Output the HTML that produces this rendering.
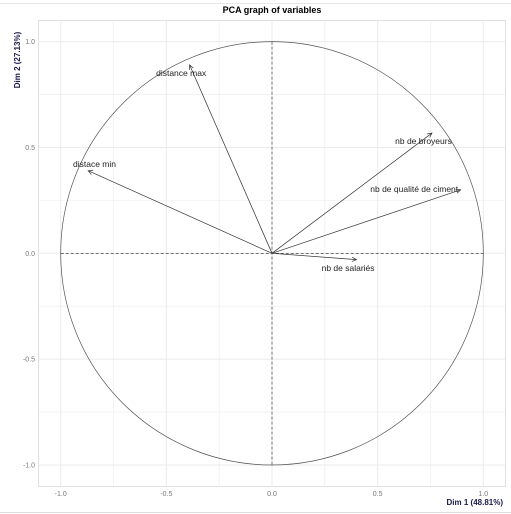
<!DOCTYPE html>
<html><head><meta charset="utf-8"><style>
body{margin:0;background:#fff;}
svg{display:block;font-family:"Liberation Sans",sans-serif;}
</style></head><body>
<svg id="c" width="511" height="514">
<line x1="0" y1="3.5" x2="511" y2="3.5" stroke="#e6e6e6"/>
<line x1="0" y1="512.5" x2="511" y2="512.5" stroke="#dcdcdc"/>
<text x="272" y="13" font-size="9" font-weight="bold" text-anchor="middle">PCA graph of variables</text>
<rect x="38.5" y="20.5" width="467" height="466" fill="#fff" stroke="#e0e0e0"/>
<g id="grid"></g>
<g id="axes"></g>
<g id="marks"></g>
<text x="503" y="505" font-size="8" font-weight="bold" fill="#1a1a4a" text-anchor="end">Dim 1 (48.81%)</text>
<text transform="translate(20,60) rotate(-90)" font-size="8" font-weight="bold" fill="#1a1a4a" text-anchor="middle">Dim 2 (27.13%)</text>
</svg>
<script>
const variables=["distance max","distace min","nb de broyeurs","nb de qualité de ciment","nb de salariés"];
const dim1=[-0.39,-0.87,0.757,0.893,0.40];
const dim2=[0.89,0.39,0.568,0.30,-0.03];
const labelDx=[-0.04,0.03,-0.04,-0.22,-0.04];
const labelDy=[-0.038,0.032,-0.038,0.004,-0.039];
const ticks=[-1.0,-0.5,0.0,0.5,1.0];
const tickLabels=["-1.0","-0.5","0.0","0.5","1.0"];
const NS="http://www.w3.org/2000/svg";
const sx=v=>272+v*211.3, sy=v=>253.3-v*211.7;
function mk(tag,attrs,parent){const e=document.createElementNS(NS,tag);for(const k in attrs)e.setAttribute(k,attrs[k]);parent.appendChild(e);return e;}
const grid=document.getElementById('grid'),axes=document.getElementById('axes'),marks=document.getElementById('marks');
const minor=[-0.75,-0.25,0.25,0.75];
minor.concat(ticks).forEach(t=>{
 const a=mk('line',{x1:sx(t),x2:sx(t),y1:20.5,y2:486.5,stroke:'#ebebeb','stroke-width':minor.includes(t)?0.6:1},grid);
 
 
 const b=mk('line',{y1:sy(t),y2:sy(t),x1:38.5,x2:505.5,stroke:'#ebebeb','stroke-width':minor.includes(t)?0.6:1},grid);
 
 
});
ticks.forEach((t,i)=>{
 const a=mk('text',{x:sx(t),y:496,'font-size':7,fill:'#777','text-anchor':'middle'},axes);a.textContent=tickLabels[i];
 
 
 const b=mk('text',{x:35,y:sy(t)+2.5,'font-size':7,fill:'#777','text-anchor':'end'},axes);b.textContent=tickLabels[i];
 
 
});
const circ=mk('ellipse',{cx:sx(0),cy:sy(0),rx:211.3,ry:211.7,fill:'none',stroke:'#555','stroke-width':0.7},marks);


const h=mk('line',{x1:sx(-1),x2:sx(1),y1:sy(0),y2:sy(0),stroke:'#222','stroke-width':0.6,'stroke-dasharray':'3,2'},marks);


const v=mk('line',{y1:sy(1),y2:sy(-1),x1:sx(0),x2:sx(0),stroke:'#222','stroke-width':0.6,'stroke-dasharray':'3,2'},marks);


variables.forEach((n,i)=>{
 const x0=sx(0),y0=sy(0),x1=sx(dim1[i]),y1=sy(dim2[i]);
 const l=mk('line',{x1:x0,y1:y0,x2:x1,y2:y1,stroke:'#333','stroke-width':0.7},marks);
 
 
 const ang=Math.atan2(y1-y0,x1-x0),L=5;
 const p=`M${x1-L*Math.cos(ang-0.45)},${y1-L*Math.sin(ang-0.45)} L${x1},${y1} L${x1-L*Math.cos(ang+0.45)},${y1-L*Math.sin(ang+0.45)}`;
 const hd=mk('path',{d:p,fill:'none',stroke:'#333','stroke-width':0.7},marks);
 
 
 const t=mk('text',{x:sx(dim1[i]+labelDx[i]),y:sy(dim2[i]+labelDy[i])+3,'font-size':8.5,fill:'#222','text-anchor':'middle'},marks);
 t.textContent=n;
 
 
});
</script>
</body></html>
